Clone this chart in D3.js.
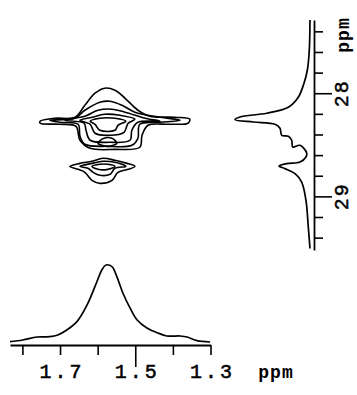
<!DOCTYPE html>
<html>
<head>
<meta charset="utf-8">
<script src="https://cdn.jsdelivr.net/npm/d3@7"></script>
<style>
  body { margin: 0; background: #fff; }
  text { font-family: "Liberation Mono", "Courier New", monospace; fill: #000; }
</style>
</head>
<body>
<svg id="chart" width="357" height="395"></svg>
<script>
// 1H axis (horizontal), ppm
var hTicks = [1.8, 1.7, 1.6, 1.5, 1.4, 1.3];
var hLabels = [1.7, 1.5, 1.3];
// 13C axis (vertical), ppm
var cTicks = [27.4, 27.6, 27.8, 28.0, 28.2, 28.4, 28.6, 28.8, 29.0, 29.2, 29.4];
var cLabels = [28, 29];

// 1H projection (bottom trace), relative intensity
var hProjPpm = [1.833, 1.799, 1.761, 1.727, 1.706, 1.682, 1.655, 1.628, 1.602, 1.589, 1.578, 1.562, 1.549, 1.533, 1.514, 1.495, 1.469, 1.442, 1.416, 1.381, 1.362, 1.336, 1.301];
var hProjInt = [0.004, 0.026, 0.065, 0.069, 0.091, 0.156, 0.264, 0.481, 0.783, 0.935, 1.000, 0.978, 0.848, 0.636, 0.442, 0.286, 0.182, 0.121, 0.078, 0.078, 0.065, 0.017, 0.000];

// 13C projection (right trace), relative intensity
var cProjPpm = [27.291, 27.583, 27.777, 27.903, 28.039, 28.136, 28.194, 28.230, 28.255, 28.279, 28.301, 28.340, 28.408, 28.417, 28.456, 28.521, 28.505, 28.580, 28.618, 28.667, 28.683, 28.706, 28.731, 28.780, 28.861, 29.039, 29.298, 29.505];
var cProjInt = [0.007, 0.016, 0.042, 0.086, 0.162, 0.294, 0.580, 0.934, 1.000, 0.757, 0.470, 0.404, 0.381, 0.294, 0.249, 0.236, 0.139, 0.050, 0.060, 0.139, 0.315, 0.417, 0.338, 0.205, 0.117, 0.060, 0.029, 0.007];

// contour outlines, [1H ppm, 13C ppm]
// main cross peak
var peakA1 = [[1.753, 28.272], [1.714, 28.243], [1.660, 28.233], [1.634, 28.117], [1.607, 28.000], [1.581, 27.951], [1.554, 27.971], [1.527, 28.049], [1.493, 28.165], [1.461, 28.223], [1.394, 28.233], [1.355, 28.252], [1.360, 28.291], [1.408, 28.301], [1.466, 28.311], [1.482, 28.408], [1.488, 28.524], [1.554, 28.544], [1.620, 28.534], [1.647, 28.456], [1.658, 28.320], [1.700, 28.301], [1.753, 28.291]];
var peakA2 = [[1.727, 28.262], [1.660, 28.243], [1.634, 28.165], [1.594, 28.087], [1.567, 28.078], [1.535, 28.117], [1.501, 28.184], [1.434, 28.233], [1.381, 28.262], [1.434, 28.282], [1.488, 28.301], [1.493, 28.437], [1.509, 28.505], [1.573, 28.515], [1.634, 28.495], [1.647, 28.417], [1.652, 28.301], [1.700, 28.282]];
var peakA3 = [[1.687, 28.262], [1.634, 28.223], [1.599, 28.165], [1.562, 28.155], [1.527, 28.184], [1.474, 28.243], [1.434, 28.272], [1.493, 28.282], [1.509, 28.359], [1.514, 28.456], [1.567, 28.476], [1.620, 28.456], [1.631, 28.359], [1.636, 28.291]];
var peakA4 = [[1.647, 28.262], [1.615, 28.233], [1.581, 28.204], [1.541, 28.214], [1.501, 28.252], [1.519, 28.291], [1.530, 28.379], [1.567, 28.408], [1.607, 28.388], [1.620, 28.301]];
var peakA5 = [[1.620, 28.272], [1.594, 28.243], [1.554, 28.243], [1.525, 28.272], [1.546, 28.311], [1.554, 28.359], [1.594, 28.359], [1.607, 28.301]];
var peakA6 = [[1.599, 28.485], [1.583, 28.437], [1.562, 28.437], [1.549, 28.485], [1.573, 28.515]];
// smaller cross peak
var peakB1 = [[1.674, 28.709], [1.647, 28.680], [1.615, 28.660], [1.586, 28.631], [1.554, 28.650], [1.522, 28.680], [1.501, 28.709], [1.519, 28.738], [1.546, 28.767], [1.562, 28.845], [1.594, 28.874], [1.615, 28.845], [1.634, 28.767], [1.652, 28.738]];
var peakB2 = [[1.647, 28.709], [1.615, 28.680], [1.586, 28.660], [1.554, 28.670], [1.525, 28.709], [1.554, 28.728], [1.567, 28.786], [1.594, 28.796], [1.612, 28.767], [1.626, 28.728]];
var peakB3 = [[1.615, 28.709], [1.594, 28.689], [1.573, 28.689], [1.554, 28.709], [1.573, 28.738], [1.599, 28.738]];

var svg = d3.select("#chart");

var xScale = d3.scaleLinear().domain([1.833, 1.3]).range([10, 210.5]);
var yScale = d3.scaleLinear().domain([27.29, 29.52]).range([20, 250]);
var hIntScale = d3.scaleLinear().domain([0, 1]).range([342, 265]);
var cIntScale = d3.scaleLinear().domain([0, 1]).range([310.5, 235]);

// contours
var contourLine = d3.line()
    .x(function (d) { return xScale(d[0]); })
    .y(function (d) { return yScale(d[1]); })
    .curve(d3.curveCatmullRomClosed.alpha(0.5));

var contours = [peakA1, peakA2, peakA3, peakA4, peakA5, peakA6, peakB1, peakB2, peakB3];
svg.append("g").selectAll("path").data(contours).enter().append("path")
    .attr("d", contourLine)
    .attr("fill", "none")
    .attr("stroke", "#000")
    .attr("stroke-width", 1.6)
    .attr("stroke-linejoin", "round");

// bottom projection
var hLine = d3.line()
    .x(function (d, i) { return xScale(hProjPpm[i]); })
    .y(function (d) { return hIntScale(d); })
    .curve(d3.curveCatmullRom.alpha(0.5));

svg.append("path")
    .attr("d", hLine(hProjInt))
    .attr("fill", "none")
    .attr("stroke", "#000")
    .attr("stroke-width", 1.7);

// right projection
var cLine = d3.line()
    .x(function (d) { return cIntScale(d); })
    .y(function (d, i) { return yScale(cProjPpm[i]); })
    .curve(d3.curveCatmullRom.alpha(0.5));

svg.append("path")
    .attr("d", cLine(cProjInt))
    .attr("fill", "none")
    .attr("stroke", "#000")
    .attr("stroke-width", 1.7);

// bottom axis
var xAxis = d3.axisBottom(xScale)
    .tickValues(hTicks)
    .tickSize(10)
    .tickSizeOuter(0)
    .tickFormat("");

var gx = svg.append("g").attr("transform", "translate(0,345)").call(xAxis);
gx.select(".domain").attr("stroke-width", 1.8);
gx.selectAll(".tick line")
    .attr("stroke-width", 1.6)
    .attr("y2", function (d) { return d === 1.5 ? 22 : 10; });

svg.append("g").selectAll("text").data(hLabels).enter().append("text")
    .attr("x", function (d) { return xScale(d) + 2; })
    .attr("y", 378)
    .attr("text-anchor", "middle")
    .attr("font-size", 20)
    .attr("letter-spacing", 3)
    .attr("stroke", "#000")
    .attr("stroke-width", 0.5)
    .text(function (d) { return d.toFixed(1); });

svg.append("text")
    .attr("x", 276)
    .attr("y", 378)
    .attr("text-anchor", "middle")
    .attr("font-size", 18)
    .attr("font-weight", "bold")
    .attr("letter-spacing", 1)
    .text("ppm");

// right axis
var yAxis = d3.axisRight(yScale)
    .tickValues(cTicks)
    .tickSize(9)
    .tickSizeOuter(0)
    .tickFormat("");

var gy = svg.append("g").attr("transform", "translate(314,0)").call(yAxis);
gy.select(".domain").attr("stroke-width", 1.8);
gy.selectAll(".tick line")
    .attr("stroke-width", 1.6)
    .attr("x2", function (d) { return (d === 28 || d === 29) ? 18 : 9; });

svg.append("g").selectAll("text").data(cLabels).enter().append("text")
    .attr("transform", function (d) { return "translate(348," + yScale(d) + ") rotate(-90)"; })
    .attr("text-anchor", "middle")
    .attr("font-size", 20)
    .attr("letter-spacing", 2)
    .attr("stroke", "#000")
    .attr("stroke-width", 0.5)
    .text(function (d) { return d; });

svg.append("text")
    .attr("transform", "translate(349,35) rotate(-90)")
    .attr("text-anchor", "middle")
    .attr("font-size", 18)
    .attr("font-weight", "bold")
    .attr("letter-spacing", 1)
    .text("ppm");
</script>
</body>
</html>
